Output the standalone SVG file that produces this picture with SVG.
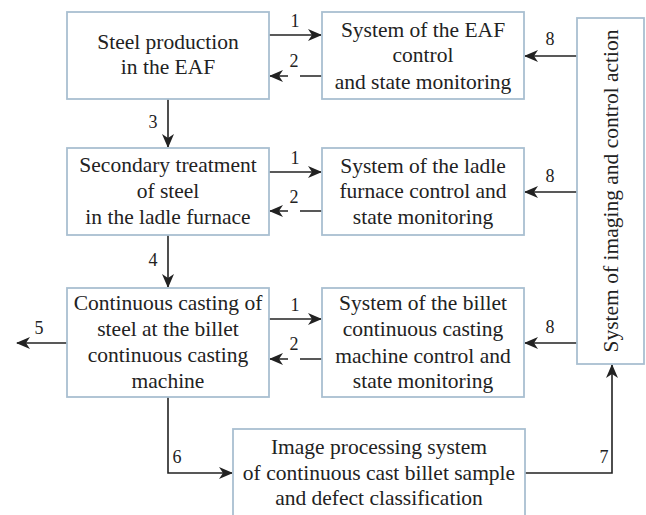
<svg xmlns="http://www.w3.org/2000/svg" width="646" height="515" viewBox="0 0 646 515" font-family="'Liberation Serif', 'DejaVu Serif', serif">
<style>
.box{fill:#fff;stroke:#a9bfd1;stroke-width:1.8}
.t{font-size:21.5px;fill:#222;text-anchor:middle}
.n{font-size:18px;fill:#222;text-anchor:middle}
.c{fill:none;stroke:#222;stroke-width:1.6}
</style>
<defs>
<marker id="ah" markerWidth="14" markerHeight="12" viewBox="0 0 14 12" refX="13" refY="6" orient="auto" markerUnits="userSpaceOnUse">
<path d="M0,0 L14,6 L0,12 L4,6 Z" fill="#222"/>
</marker>
</defs>
<rect width="646" height="515" fill="#fff"/>
<g id="connectors">
<path class="c" d="M269,35 H321" marker-end="url(#ah)"/>
<path class="c" d="M322,76 H300 M288,76 H270" marker-end="url(#ah)"/>
<path class="c" d="M269,172 H321" marker-end="url(#ah)"/>
<path class="c" d="M322,211 H300 M288,211 H270" marker-end="url(#ah)"/>
<path class="c" d="M269,319 H321" marker-end="url(#ah)"/>
<path class="c" d="M322,359 H300 M288,359 H270" marker-end="url(#ah)"/>
<path class="c" d="M168,99 V147" marker-end="url(#ah)"/>
<path class="c" d="M168,235 V287" marker-end="url(#ah)"/>
<path class="c" d="M67,343 H17" marker-end="url(#ah)"/>
<path class="c" d="M168,397 V473 H232" marker-end="url(#ah)"/>
<path class="c" d="M524,473 H612 V365" marker-end="url(#ah)"/>
<path class="c" d="M577,56 H525" marker-end="url(#ah)"/>
<path class="c" d="M577,192 H525" marker-end="url(#ah)"/>
<path class="c" d="M577,343 H525" marker-end="url(#ah)"/>
<text class="n" font-family="Liberation Serif" x="295" y="27">1</text>
<text class="n" font-family="Liberation Serif" x="294" y="67">2</text>
<text class="n" font-family="Liberation Serif" x="295" y="164">1</text>
<text class="n" font-family="Liberation Serif" x="294" y="203">2</text>
<text class="n" font-family="Liberation Serif" x="295" y="311">1</text>
<text class="n" font-family="Liberation Serif" x="294" y="350">2</text>
<text class="n" font-family="Liberation Serif" x="153" y="128">3</text>
<text class="n" font-family="Liberation Serif" x="153" y="266">4</text>
<text class="n" font-family="Liberation Serif" x="39" y="334">5</text>
<text class="n" font-family="Liberation Serif" x="177" y="463">6</text>
<text class="n" font-family="Liberation Serif" x="604" y="463">7</text>
<text class="n" font-family="Liberation Serif" x="550" y="45">8</text>
<text class="n" font-family="Liberation Serif" x="550" y="182">8</text>
<text class="n" font-family="Liberation Serif" x="550" y="333">8</text>
</g>
<g id="eaf" font-family="Liberation Serif">
<rect class="box" x="67" y="12" width="202" height="87"/>
<text class="t" x="168" y="49">Steel production</text>
<text class="t" x="168" y="74">in the EAF</text>
</g>
<g id="ladle" font-family="Liberation Serif">
<rect class="box" x="67" y="148" width="202" height="87"/>
<text class="t" x="168" y="172">Secondary treatment</text>
<text class="t" x="168" y="198">of steel</text>
<text class="t" x="168" y="224">in the ladle furnace</text>
</g>
<g id="casting" font-family="Liberation Serif">
<rect class="box" x="67" y="288" width="202" height="109"/>
<text class="t" x="168" y="310">Continuous casting of</text>
<text class="t" x="168" y="336">steel at the billet</text>
<text class="t" x="168" y="362">continuous casting</text>
<text class="t" x="168" y="388">machine</text>
</g>
<g id="eaf-control" font-family="Liberation Serif">
<rect class="box" x="322" y="12" width="202" height="87"/>
<text class="t" x="423" y="37">System of the EAF</text>
<text class="t" x="423" y="62">control</text>
<text class="t" x="423" y="89">and state monitoring</text>
</g>
<g id="ladle-control" font-family="Liberation Serif">
<rect class="box" x="322" y="148" width="202" height="87"/>
<text class="t" x="423" y="173">System of the ladle</text>
<text class="t" x="423" y="198">furnace control and</text>
<text class="t" x="423" y="224">state monitoring</text>
</g>
<g id="billet-control" font-family="Liberation Serif">
<rect class="box" x="322" y="288" width="202" height="109"/>
<text class="t" x="423" y="310">System of the billet</text>
<text class="t" x="423" y="336">continuous casting</text>
<text class="t" x="423" y="363">machine control and</text>
<text class="t" x="423" y="388">state monitoring</text>
</g>
<g id="imaging" font-family="Liberation Serif">
<rect class="box" x="577" y="18" width="67" height="346"/>
<text class="t" transform="translate(618,191) rotate(-90)" x="0" y="0">System of imaging and control action</text>
</g>
<g id="image-processing" font-family="Liberation Serif">
<rect class="box" x="233" y="429" width="292" height="95"/>
<text class="t" x="379" y="454">Image processing system</text>
<text class="t" x="379" y="480">of continuous cast billet sample</text>
<text class="t" x="379" y="505">and defect classification</text>
</g>
</svg>
